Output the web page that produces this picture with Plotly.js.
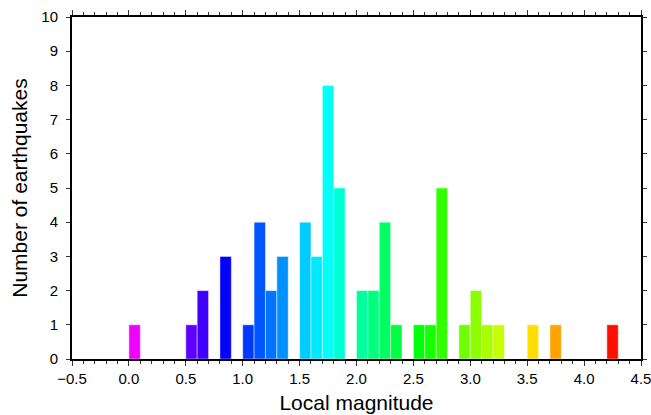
<!DOCTYPE html>
<html>
<head>
<meta charset="utf-8">
<script src="https://cdn.plot.ly/plotly-3.0.1.min.js"></script>
<style>html,body{margin:0;padding:0;background:#fff;}#chart{width:651px;height:415px;}</style>
</head>
<body>
<div id="chart"></div>
<script>
// Bin centres (local magnitude, bin width 0.1) and counts
const magnitudes = [0.05, 0.55, 0.65, 0.85, 1.05, 1.15, 1.25, 1.35, 1.55, 1.65, 1.75, 1.85,
                    2.05, 2.15, 2.25, 2.35, 2.55, 2.65, 2.75, 2.95, 3.05, 3.15, 3.25, 3.55, 3.75, 4.25];
const counts =     [1, 1, 2, 3, 1, 4, 2, 3, 4, 3, 8, 5,
                    2, 2, 4, 1, 1, 1, 5, 1, 2, 1, 1, 1, 1, 1];
const xTickVals = [-0.5, 0, 0.5, 1, 1.5, 2, 2.5, 3, 3.5, 4, 4.5];
const xTickText = ['\u22120.5', '0.0', '0.5', '1.0', '1.5', '2.0', '2.5', '3.0', '3.5', '4.0', '4.5'];
const yTickVals = [0, 1, 2, 3, 4, 5, 6, 7, 8, 9, 10];

const rainbow = [
  [0.0, 'rgb(255,0,255)'],
  [0.2, 'rgb(0,0,255)'],
  [0.4, 'rgb(0,255,255)'],
  [0.6, 'rgb(0,255,0)'],
  [0.8, 'rgb(255,255,0)'],
  [1.0, 'rgb(255,0,0)']
];

const trace = {
  type: 'bar',
  x: magnitudes,
  y: counts,
  width: 0.1,
  marker: {
    color: magnitudes,
    colorscale: rainbow,
    cmin: 0.0,
    cmax: 4.3,
    showscale: false,
    line: {color: 'rgba(255,255,255,0.45)', width: 1}
  },
  hoverinfo: 'x+y'
};

const font = {family: 'Liberation Sans, Arial, Helvetica, sans-serif', color: '#000'};

const layout = {
  width: 651, height: 415,
  margin: {l: 72, r: 10, t: 17, b: 56},
  paper_bgcolor: '#fff', plot_bgcolor: '#fff',
  showlegend: false,
  font: font,
  bargap: 0,
  xaxis: {
    range: [-0.5, 4.5],
    tickmode: 'array', tickvals: xTickVals, ticktext: xTickText,
    ticks: 'outside', ticklen: 5, tickwidth: 1, tickcolor: '#333',
    ticklabeloverflow: 'allow',
    minor: {dtick: 0.1, tick0: 0, ticks: 'outside', ticklen: 3, tickwidth: 1, tickcolor: '#333'},
    showline: true, linewidth: 2, linecolor: '#000', mirror: 'ticks',
    showgrid: false, zeroline: false,
    tickfont: {family: font.family, size: 15, color: '#000'},
    title: {text: 'Local magnitude', font: {family: font.family, size: 21, color: '#000'}, standoff: 9}
  },
  yaxis: {
    range: [0, 10],
    tickmode: 'array', tickvals: yTickVals,
    ticks: 'outside', ticklen: 4, tickwidth: 1, tickcolor: '#333',
    ticklabelstandoff: 5,
    showline: true, linewidth: 2, linecolor: '#000', mirror: 'ticks',
    showgrid: false, zeroline: false,
    tickfont: {family: font.family, size: 15, color: '#000'},
    title: {text: 'Number of earthquakes', font: {family: font.family, size: 21, color: '#000'}, standoff: 8}
  }
};

Plotly.newPlot('chart', [trace], layout, {displayModeBar: false, staticPlot: true});
</script>
</body>
</html>
